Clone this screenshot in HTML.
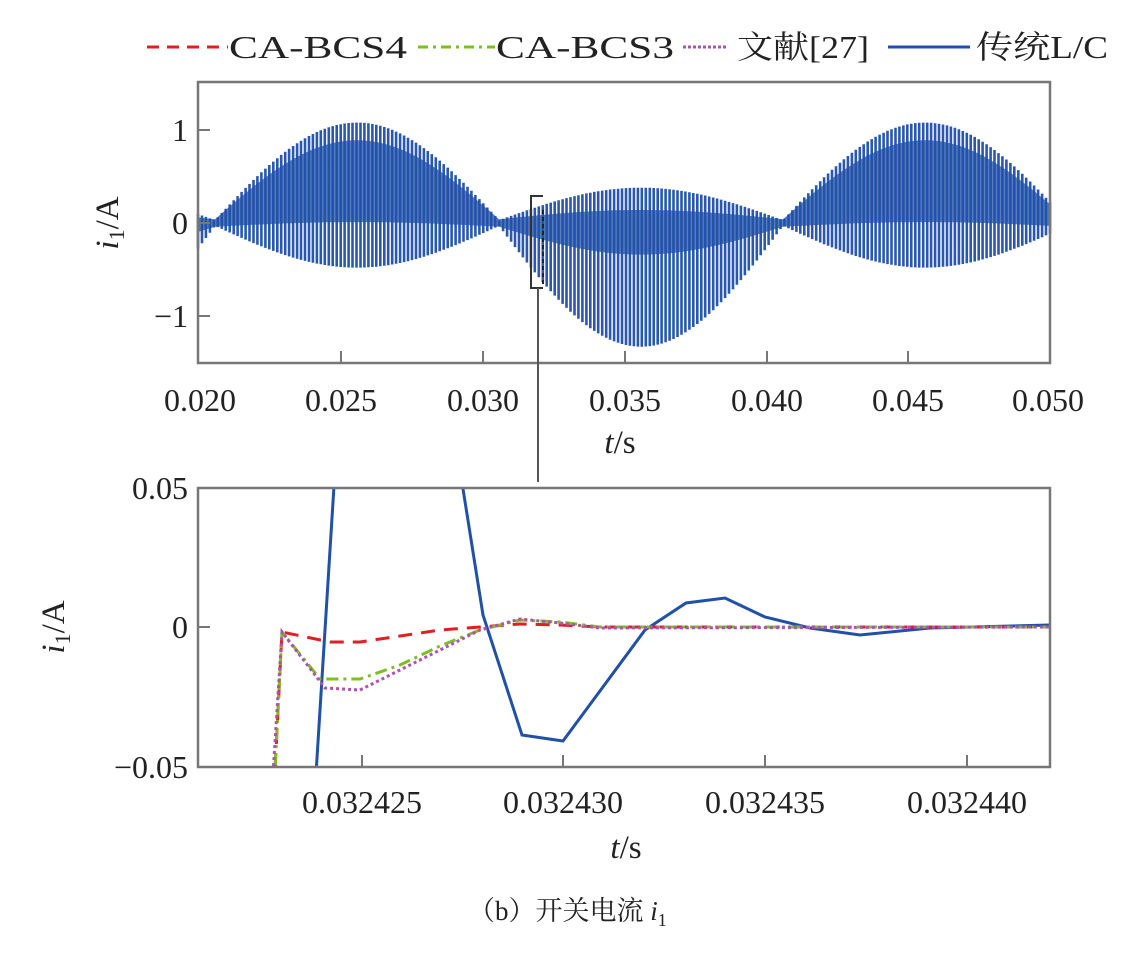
<!DOCTYPE html>
<html><head><meta charset="utf-8"><style>
html,body{margin:0;padding:0;background:#fff;}
svg{display:block;font-family:"Liberation Serif","Noto Serif CJK SC",serif;}
</style></head><body>
<svg id="s" width="1137" height="953" viewBox="0 0 1137 953" xmlns="http://www.w3.org/2000/svg">
<rect width="1137" height="953" fill="#fff"/>
<g font-size="32" fill="#222">
<line x1="147" y1="47" x2="228" y2="47" stroke="#e02020" stroke-width="3" stroke-dasharray="12,8"/>
<text x="229" y="58" textLength="178" lengthAdjust="spacingAndGlyphs">CA-BCS4</text>
<line x1="418" y1="47" x2="495" y2="47" stroke="#7ac020" stroke-width="3" stroke-dasharray="10,5,3,5"/>
<text x="496" y="58" textLength="178" lengthAdjust="spacingAndGlyphs">CA-BCS3</text>
<line x1="683" y1="47" x2="728" y2="47" stroke="#b050b0" stroke-width="3" stroke-dasharray="3,2"/>
<text x="737" y="58" textLength="132" lengthAdjust="spacingAndGlyphs">文献[27]</text>
<line x1="888" y1="47" x2="970" y2="47" stroke="#2050a8" stroke-width="3"/>
<text x="976" y="58" textLength="132" lengthAdjust="spacingAndGlyphs">传统L/C</text>
</g>
<g id="top"></g>
<rect x="198" y="82" width="852" height="281" fill="none" stroke="#777" stroke-width="2.5"/>
<g stroke="#777" stroke-width="2">
<line x1="198" y1="130" x2="210" y2="130"/><line x1="198" y1="223" x2="210" y2="223"/><line x1="198" y1="316" x2="210" y2="316"/>
<line x1="341" y1="363" x2="341" y2="351"/><line x1="483" y1="363" x2="483" y2="351"/><line x1="625" y1="363" x2="625" y2="351"/><line x1="767" y1="363" x2="767" y2="351"/><line x1="908" y1="363" x2="908" y2="351"/>
</g>
<g font-size="32" fill="#222" text-anchor="end">
<text x="188" y="141">1</text><text x="188" y="234">0</text><text x="188" y="327">−1</text>
</g>
<g font-size="32" fill="#222" text-anchor="middle">
<text x="200" y="411">0.020</text><text x="341" y="411">0.025</text><text x="483" y="411">0.030</text><text x="625" y="411">0.035</text><text x="767" y="411">0.040</text><text x="908" y="411">0.045</text><text x="1048" y="411">0.050</text>
</g>
<text x="620" y="453" font-size="33" fill="#222" text-anchor="middle"><tspan font-style="italic">t</tspan>/s</text>
<text transform="translate(118,223) rotate(-90)" font-size="33" fill="#222" text-anchor="middle"><tspan font-style="italic">i</tspan><tspan font-size="22" dy="6">1</tspan><tspan dy="-6">/A</tspan></text>
<path d="M543,196 H531 V288 H543" fill="none" stroke="#333" stroke-width="2"/>
<line x1="543" y1="210" x2="543" y2="285" stroke="#222" stroke-width="2" stroke-dasharray="4,3"/>
<line x1="538" y1="288" x2="538" y2="482" stroke="#555" stroke-width="2"/>
<defs><clipPath id="cb"><rect x="198" y="488" width="852" height="279"/></clipPath></defs>
<g clip-path="url(#cb)" fill="none" stroke-width="3">
<polyline stroke="#2050a8" points="315,790 335,470 460,470 483,615 522,735 563,741 645,630 686,603 725,598 765,617 810,628 860,635 930,628 1050,625"/>
<polyline stroke="#e02020" stroke-dasharray="14,9" points="274,790 282,632 330,642 360,642 440,630 480,627 520,624 560,625 600,627 1050,627"/>
<polyline stroke="#7ac020" stroke-dasharray="12,5,3,5" points="274,790 282,632 320,679 360,679 400,665 440,646 480,630 520,620 560,622 600,627 1050,627"/>
<polyline stroke="#b050b0" stroke-dasharray="3,3" points="272,790 282,632 325,688 360,690 400,670 440,650 480,630 520,619 560,623 600,628 1050,627"/>
</g>
<rect x="198" y="488" width="852" height="279" fill="none" stroke="#777" stroke-width="2.5"/>
<g stroke="#777" stroke-width="2">
<line x1="198" y1="627" x2="210" y2="627"/>
<line x1="362" y1="767" x2="362" y2="755"/><line x1="563" y1="767" x2="563" y2="755"/><line x1="765" y1="767" x2="765" y2="755"/><line x1="967" y1="767" x2="967" y2="755"/>
</g>
<g font-size="32" fill="#222" text-anchor="end">
<text x="188" y="499">0.05</text><text x="188" y="638">0</text><text x="188" y="778">−0.05</text>
</g>
<g font-size="32" fill="#222" text-anchor="middle">
<text x="362" y="813">0.032425</text><text x="563" y="813">0.032430</text><text x="765" y="813">0.032435</text><text x="967" y="813">0.032440</text>
</g>
<text x="626" y="858" font-size="33" fill="#222" text-anchor="middle"><tspan font-style="italic">t</tspan>/s</text>
<text transform="translate(64,627) rotate(-90)" font-size="33" fill="#222" text-anchor="middle"><tspan font-style="italic">i</tspan><tspan font-size="22" dy="6">1</tspan><tspan dy="-6">/A</tspan></text>
<text x="468" y="920" font-size="27" fill="#222">（b）开关电流 <tspan font-style="italic">i</tspan><tspan font-size="18" dy="6">1</tspan></text>
</svg>
<script>
(function(){
var g=document.getElementById('top'),ns='http://www.w3.org/2000/svg';
function X(t){return 198+(t-0.02)/0.03*852;}
function Y(v){return 223-v*93;}
function S(t){return Math.sin(2*Math.PI*50*(t-0.0206));}
var d1='';
for(var i=0;i<=215;i++){
 var t=0.02+i*0.03/215;var s=S(t);
 var up,lo;
 if(s>=0){up=1.05*s+0.03;lo=-0.45*s-0.03;}else{up=0.35*-s+0.03;lo=1.3*s-0.03;}
 var x=X(t).toFixed(1);
 d1+='M'+x+','+Y(up).toFixed(1)+'V'+Y(lo).toFixed(1);
}
var p=document.createElementNS(ns,'path');p.setAttribute('d',d1);p.setAttribute('stroke','#2a58b0');p.setAttribute('stroke-width','2.6');p.setAttribute('fill','none');g.appendChild(p);
var pts=[],pts2=[];
for(var i=0;i<=300;i++){var t=0.02+i*0.03/300;var s=S(t);
 var a,b;if(s>=0){a=0.85*s+0.04;b=0.05*s-0.04;}else{a=0.1*-s+0.04;b=0.3*s-0.04;}
 pts.push(X(t).toFixed(1)+','+Y(a).toFixed(1));pts2.unshift(X(t).toFixed(1)+','+Y(b).toFixed(1));}
var q=document.createElementNS(ns,'polygon');q.setAttribute('points',pts.concat(pts2).join(' '));q.setAttribute('fill','#2050a8');q.setAttribute('opacity','0.75');g.appendChild(q);
})();
</script>
</body></html>
